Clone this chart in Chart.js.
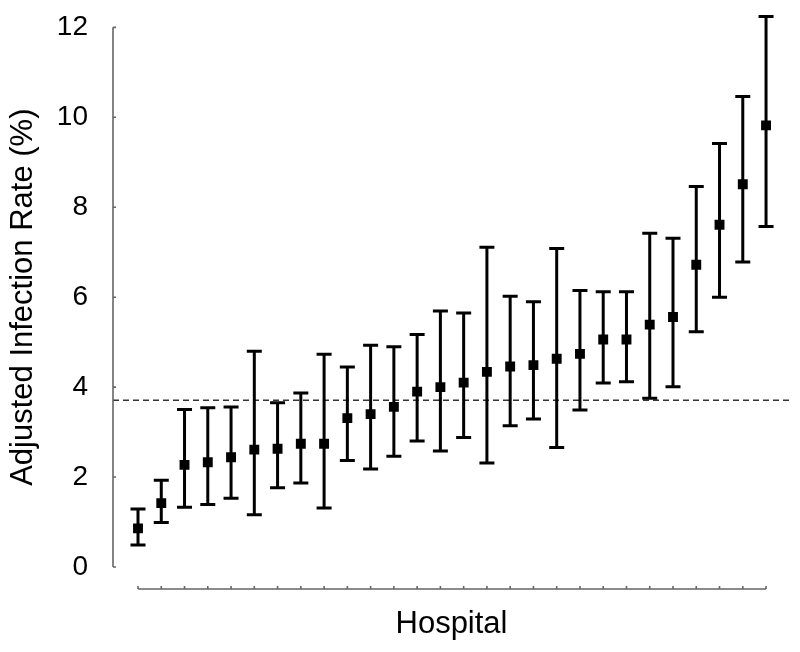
<!DOCTYPE html>
<html>
<head>
<meta charset="utf-8">
<script src="https://cdn.jsdelivr.net/npm/chart.js@4/dist/chart.umd.min.js"></script>
<style>
    html, body { margin: 0; padding: 0; background: #fff; }
    #wrap { width: 800px; height: 652px; }
</style>
</head>
<body>
<div id="wrap"><canvas id="rates"></canvas></div>
<script>
// hospitals, sorted by adjusted rate
const hospitals = [1, 2, 3, 4, 5, 6, 7, 8, 9, 10, 11, 12, 13, 14, 15, 16, 17, 18, 19, 20, 21, 22, 23, 24, 25, 26, 27, 28];
const rates = [0.86, 1.42, 2.27, 2.33, 2.44, 2.61, 2.63, 2.74, 2.74, 3.31, 3.40, 3.56, 3.90, 4.00,
               4.10, 4.34, 4.46, 4.49, 4.63, 4.74, 5.06, 5.06, 5.39, 5.56, 6.72, 7.61, 8.51, 9.82];
const lower = [0.49, 0.99, 1.33, 1.39, 1.53, 1.16, 1.76, 1.87, 1.31, 2.37, 2.18, 2.46, 2.80, 2.58,
               2.88, 2.31, 3.14, 3.29, 2.66, 3.49, 4.09, 4.12, 3.75, 4.01, 5.23, 6.00, 6.78, 7.57];
const upper = [1.29, 1.93, 3.50, 3.54, 3.56, 4.80, 3.65, 3.87, 4.73, 4.45, 4.93, 4.90, 5.17, 5.69,
               5.65, 7.11, 6.02, 5.90, 7.08, 6.15, 6.12, 6.12, 7.42, 7.31, 8.46, 9.42, 10.46, 12.24];
const overallRate = 3.71;
const yTicks = [0, 2, 4, 6, 8, 10, 12];

const FONT = "'Liberation Sans', Arial, Helvetica, sans-serif";

// error bars, reference line and the offset axis lines
const extras = {
    id: 'extras',
    beforeDatasetsDraw(chart) {
        const {ctx, chartArea, scales: {x, y}} = chart;
        ctx.save();

        // dashed overall rate
        ctx.strokeStyle = '#333';
        ctx.lineWidth = 1.5;
        ctx.setLineDash([6, 4]);
        const yr = y.getPixelForValue(overallRate);
        ctx.beginPath();
        ctx.moveTo(chartArea.left, yr);
        ctx.lineTo(chartArea.right, yr);
        ctx.stroke();
        ctx.setLineDash([]);

        // y axis line
        ctx.strokeStyle = '#666';
        ctx.lineWidth = 1.6;
        const ax = chartArea.left;
        ctx.beginPath();
        ctx.moveTo(ax, y.getPixelForValue(yTicks[yTicks.length - 1]));
        ctx.lineTo(ax, y.getPixelForValue(0));
        yTicks.forEach(t => {
            const py = y.getPixelForValue(t);
            ctx.moveTo(ax, py);
            ctx.lineTo(ax + 3, py);
        });
        ctx.stroke();

        // x axis line, set below the plot
        const by = chartArea.bottom + 22;
        ctx.beginPath();
        ctx.moveTo(x.getPixelForValue(hospitals[0]), by);
        ctx.lineTo(x.getPixelForValue(hospitals[hospitals.length - 1]), by);
        hospitals.forEach(h => {
            const px = x.getPixelForValue(h);
            ctx.moveTo(px, by);
            ctx.lineTo(px, by - 3);
        });
        ctx.stroke();

        // confidence intervals
        ctx.strokeStyle = '#000';
        ctx.lineWidth = 3;
        hospitals.forEach((h, i) => {
            const px = x.getPixelForValue(h);
            const lo = y.getPixelForValue(lower[i]);
            const hi = y.getPixelForValue(upper[i]);
            ctx.beginPath();
            ctx.moveTo(px, lo);
            ctx.lineTo(px, hi);
            ctx.moveTo(px - 7.5, lo);
            ctx.lineTo(px + 7.5, lo);
            ctx.moveTo(px - 7.5, hi);
            ctx.lineTo(px + 7.5, hi);
            ctx.stroke();
        });
        ctx.restore();
    }
};

new Chart(document.getElementById('rates'), {
    type: 'scatter',
    data: {
        datasets: [{
            data: hospitals.map((h, i) => ({x: h, y: rates[i]})),
            pointStyle: 'rect',
            pointRadius: 7,
            pointBackgroundColor: '#000',
            pointBorderColor: '#000',
            pointBorderWidth: 0
        }]
    },
    plugins: [extras],
    options: {
        responsive: true,
        maintainAspectRatio: false,
        animation: false,
        layout: { padding: { left: 1, right: 10, top: 17, bottom: 8 } },
        plugins: {
            legend: { display: false },
            tooltip: { enabled: false }
        },
        scales: {
            x: {
                type: 'linear',
                min: -0.075,
                max: 29.03,
                grid: { display: false },
                border: { display: false },
                ticks: { display: false },
                afterFit: s => { s.height = 77; },
                title: {
                    display: true,
                    text: 'Hospital',
                    color: '#000',
                    font: { family: FONT, size: 31 },
                    padding: { top: 38, bottom: 1 }
                }
            },
            y: {
                min: 0,
                max: 12,
                grid: { display: false },
                border: { display: false },
                afterBuildTicks: s => { s.ticks = yTicks.map(v => ({value: v})); },
                afterFit: s => { s.width = 112; },
                ticks: {
                    color: '#000',
                    padding: 17,
                    font: { family: FONT, size: 28, lineHeight: 0.74 }
                },
                title: {
                    display: true,
                    text: 'Adjusted Infection Rate (%)',
                    color: '#000',
                    font: { family: FONT, size: 31 },
                    padding: { top: 4, bottom: 22 }
                }
            }
        }
    }
});
</script>
</body>
</html>
